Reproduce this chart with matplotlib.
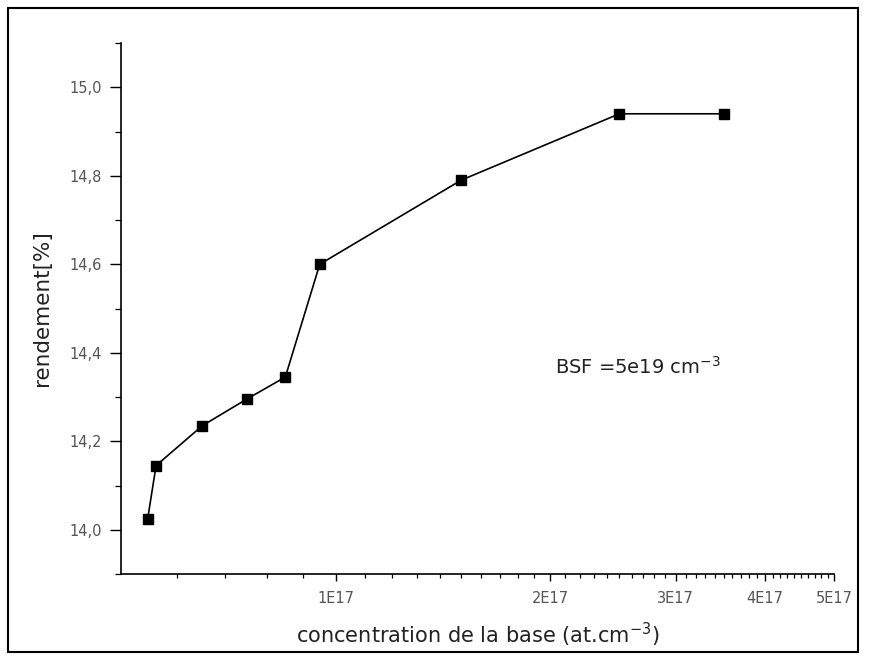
import matplotlib
matplotlib.use("Agg")
import matplotlib.pyplot as plt
from matplotlib.ticker import FixedLocator, FixedFormatter, MultipleLocator, FuncFormatter
from matplotlib.patches import Rectangle

# Base doping concentration (at/cm^3) and cell efficiency (%)
concentration = [5.45e16, 5.6e16, 6.5e16, 7.5e16, 8.5e16, 9.5e16, 1.5e17, 2.5e17, 3.5e17]
rendement = [14.025, 14.145, 14.235, 14.295, 14.345, 14.60, 14.79, 14.94, 14.94]

major_ticks = [1e17, 2e17, 3e17, 4e17, 5e17]
major_labels = ["1E17", "2E17", "3E17", "4E17", "5E17"]

plt.rcParams['font.family'] = ['DejaVu Sans']

fig = plt.figure(figsize=(8.72, 6.59), dpi=100)
ax = fig.add_axes([121 / 872, 85 / 659, 713 / 872, 531 / 659])

ax.plot(concentration, rendement, color='black', lw=1.2, marker='s',
        markersize=7.5, markerfacecolor='black', markeredgecolor='black')

ax.set_xscale('log')
ax.set_xlim(5e16, 5e17)
ax.set_ylim(13.9, 15.1)

# minor ticks every 1E16
minor = [6e16, 7e16, 8e16, 9e16]
for d in range(1, 5):
    for k in range(1, 10):
        minor.append((d + k / 10) * 1e17)
ax.xaxis.set_major_locator(FixedLocator(major_ticks))
ax.xaxis.set_major_formatter(FixedFormatter(major_labels))
ax.xaxis.set_minor_locator(FixedLocator(minor))
ax.xaxis.set_minor_formatter(FixedFormatter([]))

ax.yaxis.set_major_locator(MultipleLocator(0.2))
ax.yaxis.set_minor_locator(MultipleLocator(0.1))
ax.yaxis.set_major_formatter(FuncFormatter(lambda v, p: f"{v:.1f}".replace('.', ',')))

for side in ('top', 'right'):
    ax.spines[side].set_visible(False)
for side in ('left', 'bottom'):
    ax.spines[side].set_linewidth(1.2)

ax.tick_params(which='major', direction='out', length=5, width=1.0,
               labelsize=10.5, labelcolor='#555555', pad=7)
ax.tick_params(which='minor', direction='out', length=3, width=0.9)
ax.tick_params(axis='y', which='major', length=8, pad=6)
ax.tick_params(axis='y', which='minor', length=4)

ax.set_ylabel("rendement[%]", fontsize=15.5, color='#222222', labelpad=12)
ax.set_xlabel("concentration de la base (at.cm$^{-3}$)", fontsize=15,
              color='#222222', labelpad=11)

ax.text(0.609, 0.39, "BSF =5e19 cm$^{-3}$", transform=ax.transAxes,
        fontsize=14, color='#222222', va='center', ha='left')

# outer frame
fig.patches.append(Rectangle((8 / 872, 7 / 659), 850 / 872, 644 / 659,
                             transform=fig.transFigure, fill=False,
                             edgecolor='black', lw=1.5))

fig.savefig("out.png", dpi=100)
